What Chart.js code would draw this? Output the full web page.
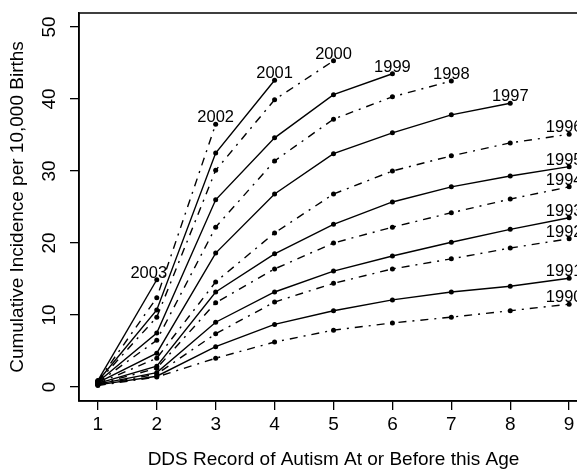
<!DOCTYPE html>
<html>
<head>
<meta charset="utf-8">
<script src="https://cdn.jsdelivr.net/npm/chart.js@4"></script>
<style>
  html, body { margin: 0; padding: 0; background: #fff; overflow: hidden; }
  #wrap { width: 600px; height: 471px; }
</style>
</head>
<body>
<div id="wrap"><canvas id="chart" width="600" height="471"></canvas></div>
<script>
// Age at DDS record (x) and cumulative incidence per 10,000 births, by birth cohort
const ages = [1, 2, 3, 4, 5, 6, 7, 8, 9];
const cohorts = ['2003', '2002', '2001', '2000', '1999', '1998', '1997',
                 '1996', '1995', '1994', '1993', '1992', '1991', '1990'];

const inc2003 = [0.9, 14.9];
const inc2002 = [0.8, 12.4, 36.5];
const inc2001 = [0.8, 10.7, 32.5, 42.6];
const inc2000 = [0.7, 9.7, 30.1, 39.9, 45.3];
const inc1999 = [0.7, 7.5, 26.0, 34.6, 40.6, 43.5];
const inc1998 = [0.6, 6.5, 22.2, 31.4, 37.2, 40.3, 42.5];
const inc1997 = [0.6, 4.7, 18.6, 26.8, 32.4, 35.3, 37.8, 39.4];
const inc1996 = [0.5, 4.0, 14.6, 21.4, 26.8, 30.0, 32.1, 33.9, 35.1];
const inc1995 = [0.5, 2.9, 13.2, 18.5, 22.6, 25.7, 27.8, 29.3, 30.6];
const inc1994 = [0.4, 2.6, 11.7, 16.4, 20.0, 22.2, 24.2, 26.1, 27.8];
const inc1993 = [0.4, 2.0, 9.0, 13.2, 16.1, 18.2, 20.1, 21.9, 23.5];
const inc1992 = [0.3, 1.8, 7.4, 11.8, 14.4, 16.4, 17.8, 19.3, 20.6];
const inc1991 = [0.3, 1.5, 5.6, 8.7, 10.6, 12.1, 13.2, 14.0, 15.1];
const inc1990 = [0.2, 1.4, 4.0, 6.25, 7.9, 8.9, 9.7, 10.6, 11.5];

const xTicks = [1, 2, 3, 4, 5, 6, 7, 8, 9];
const yTicks = [0, 10, 20, 30, 40, 50];

const series = [inc2003, inc2002, inc2001, inc2000, inc1999, inc1998, inc1997,
                inc1996, inc1995, inc1994, inc1993, inc1992, inc1991, inc1990];

const FONT = '"Liberation Sans", Arial, Helvetica, sans-serif';
const DOTDASH = [8, 6, 2, 6];

const datasets = series.map((vals, i) => ({
  label: cohorts[i],
  data: vals.map((v, j) => ({ x: ages[j], y: v })),
  borderColor: '#000',
  backgroundColor: '#000',
  borderWidth: 1.4,
  borderDash: i % 2 === 1 ? DOTDASH : [],
  pointRadius: 2.5,
  pointBorderWidth: 0,
  tension: 0,
  fill: false,
}));

// year label above the last point of each cohort
const yearLabels = {
  id: 'yearLabels',
  afterDatasetsDraw(chart) {
    const ctx = chart.ctx;
    ctx.save();
    ctx.font = `16.5px ${FONT}`;
    ctx.fillStyle = '#000';
    ctx.textAlign = 'center';
    ctx.textBaseline = 'alphabetic';
    chart.data.datasets.forEach((ds, i) => {
      const pts = chart.getDatasetMeta(i).data;
      const p = pts[pts.length - 1];
      const lastAge = ds.data[ds.data.length - 1].x;
      let dx = lastAge === 9 ? -5 : 0;
      if (ds.label === '2003') dx = -8;
      ctx.fillText(ds.label, p.x + dx, p.y - 2);
    });
    ctx.restore();
  }
};

// R-style box + rotated y tick labels
const frame = {
  id: 'frame',
  afterDraw(chart) {
    const { ctx, chartArea: a } = chart;
    const ys = chart.scales.y;
    ctx.save();
    ctx.strokeStyle = '#000';
    ctx.lineWidth = 1.5;
    ctx.strokeRect(a.left, a.top, a.right - a.left, a.bottom - a.top);
    ctx.font = `19px ${FONT}`;
    ctx.fillStyle = '#000';
    ctx.textAlign = 'center';
    ctx.textBaseline = 'alphabetic';
    yTicks.forEach(v => {
      ctx.save();
      ctx.translate(55, ys.getPixelForValue(v));
      ctx.rotate(-Math.PI / 2);
      ctx.fillText(String(v), 0, 0);
      ctx.restore();
    });
    ctx.restore();
  }
};

new Chart(document.getElementById('chart'), {
  type: 'line',
  data: { datasets },
  options: {
    responsive: false,
    animation: false,
    layout: { padding: { left: 0, top: 13, right: 12, bottom: 0 } },
    plugins: { legend: { display: false }, tooltip: { enabled: false } },
    scales: {
      x: {
        type: 'linear',
        min: 0.68,
        max: 9.32,
        afterBuildTicks: s => { s.ticks = xTicks.map(v => ({ value: v })); },
        afterFit: s => { s.height = 70; },
        grid: { drawOnChartArea: false, drawTicks: true, tickLength: 9, color: '#000', lineWidth: 1.3 },
        border: { display: true, color: '#000', width: 1.5 },
        ticks: { color: '#000', font: { family: FONT, size: 19 }, padding: 3, maxRotation: 0, autoSkip: false },
        title: {
          display: true, text: 'DDS Record of Autism At or Before this Age',
          color: '#000', font: { family: FONT, size: 19 }, padding: { top: 0, bottom: 0 }
        }
      },
      y: {
        type: 'linear',
        min: -1.94,
        max: 51.94,
        afterBuildTicks: s => { s.ticks = yTicks.map(v => ({ value: v })); },
        afterFit: s => { s.width = 79; },
        grid: { drawOnChartArea: false, drawTicks: true, tickLength: 9, color: '#000', lineWidth: 1.3 },
        border: { display: true, color: '#000', width: 1.5 },
        ticks: { display: false },
        title: {
          display: true, text: 'Cumulative Incidence per 10,000 Births',
          color: '#000', font: { family: FONT, size: 19 }, padding: { top: 6, bottom: 0 }
        }
      }
    }
  },
  plugins: [yearLabels, frame]
});
</script>
</body>
</html>
